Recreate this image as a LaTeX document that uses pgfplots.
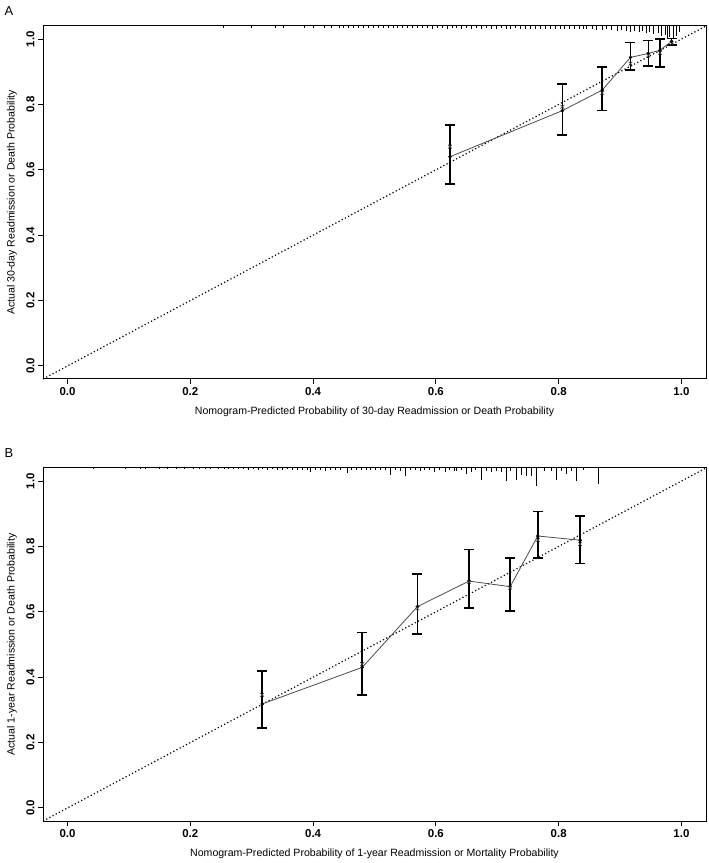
\documentclass[border=0pt]{standalone}
\usepackage{fontspec}
\setmainfont{Liberation Sans}
\usepackage{pgfplots}
\pgfplotsset{compat=1.18}
\usepackage{pgfplotstable}

% calibration groups: x = predicted, dot = observed, top/bot = CI, xm = bias-corrected
\pgfplotstableread{
x      dot    top    bot    xm
0.623  0.640  0.737  0.557  0.671
0.806  0.781  0.862  0.706  0.793
0.871  0.844  0.915  0.781  0.835
0.917  0.944  0.990  0.905  0.925
0.946  0.956  0.995  0.918  0.950
0.965  0.966  1.000  0.915  0.958
0.984  0.993  1.002  0.982  0.987
}\calA
\pgfplotstableread{
x      dot    top    bot    xm
0.317  0.318  0.419  0.244  0.346
0.480  0.430  0.537  0.346  0.440
0.570  0.616  0.715  0.532  0.611
0.654  0.694  0.791  0.612  0.692
0.721  0.677  0.765  0.602  0.674
0.766  0.832  0.907  0.765  0.820
0.835  0.819  0.894  0.748  0.807
}\calB

% rug of predicted probabilities (x, spike length)
\pgfplotstableread{
x len
0.254 .005
0.300 .005
0.338 .005
0.352 .005
0.385 .005
0.400 .005
0.418 .005
0.430 .005
0.442 .006
0.450 .006
0.458 .006
0.466 .006
0.474 .006
0.482 .006
0.490 .006
0.498 .006
0.506 .006
0.514 .006
0.522 .006
0.530 .006
0.538 .006
0.546 .006
0.554 .006
0.562 .006
0.570 .006
0.578 .006
0.586 .006
0.594 .008
0.602 .006
0.610 .006
0.618 .008
0.626 .006
0.634 .006
0.642 .008
0.650 .006
0.658 .008
0.666 .006
0.674 .008
0.682 .006
0.690 .008
0.698 .008
0.706 .006
0.714 .008
0.722 .008
0.730 .006
0.738 .008
0.746 .008
0.754 .008
0.762 .010
0.770 .008
0.778 .010
0.786 .008
0.794 .010
0.802 .010
0.810 .008
0.818 .010
0.826 .010
0.834 .010
0.840 .008
0.845 .009
0.855 .009
0.862 .012
0.871 .012
0.878 .009
0.886 .012
0.895 .015
0.902 .012
0.911 .015
0.916 .018
0.924 .015
0.931 .018
0.937 .015
0.943 .021
0.947 .018
0.955 .024
0.962 .021
0.968 .031
0.973 .028
0.977 .037
0.980 .034
0.986 .040
0.992 .031
0.996 .018
}\rugA
\pgfplotstableread{
x len
0.042 .004
0.094 .004
0.118 .004
0.126 .004
0.150 .004
0.162 .004
0.177 .004
0.190 .004
0.205 .004
0.215 .004
0.225 .004
0.233 .004
0.245 .004
0.255 .004
0.262 .004
0.270 .004
0.278 .004
0.286 .004
0.294 .005
0.302 .004
0.310 .005
0.318 .004
0.326 .005
0.334 .004
0.342 .005
0.350 .005
0.358 .004
0.366 .005
0.374 .005
0.382 .006
0.390 .005
0.395 .012
0.404 .006
0.412 .005
0.420 .009
0.428 .006
0.436 .005
0.444 .006
0.455 .015
0.462 .006
0.470 .006
0.478 .005
0.486 .006
0.494 .006
0.502 .005
0.510 .006
0.518 .006
0.525 .020
0.534 .006
0.542 .008
0.550 .026
0.558 .006
0.566 .006
0.574 .008
0.582 .006
0.590 .006
0.598 .012
0.606 .006
0.615 .012
0.622 .006
0.630 .008
0.634 .010
0.642 .006
0.650 .018
0.657 .012
0.665 .006
0.674 .037
0.682 .009
0.690 .012
0.698 .009
0.706 .012
0.715 .040
0.722 .009
0.731 .037
0.740 .021
0.748 .024
0.756 .024
0.764 .055
0.776 .009
0.788 .009
0.797 .037
0.805 .009
0.813 .018
0.820 .009
0.829 .040
0.840 .006
0.864 .049
}\rugB

\pgfplotsset{
  calstyle/.style={
    scale only axis, width=663bp, height=353bp,
    xmin=-0.04, xmax=1.04, ymin=-0.04, ymax=1.04,
    clip=false,
    xtick={0,0.2,0.4,0.6,0.8,1.0}, ytick={0,0.2,0.4,0.6,0.8,1.0},
    xticklabels={0.0,0.2,0.4,0.6,0.8,1.0},
    yticklabels={0.0,0.2,0.4,0.6,0.8,1.0},
    xtick pos=left, ytick pos=left,
    tick align=outside, major tick length=5bp,
    axis line style={black, line width=1bp},
    every tick/.style={black, line width=1bp},
    tick label style={font=\fontsize{11.5}{13}\selectfont\bfseries},
    yticklabel style={rotate=90, anchor=south},
    xlabel style={at={(axis description cs:0.5,-0.094)}, anchor=center, font=\fontsize{10.6}{12}\selectfont},
    ylabel style={at={(axis description cs:-0.047,0.5)}, anchor=center, font=\fontsize{10.6}{12}\selectfont},
  },
  rugstyle/.style={draw=none, mark=none,
    error bars/.cd, y dir=minus, y explicit, error mark=none,
    error bar style={draw=black, solid, line width=0.7bp}},
  barstyle/.style={draw=none, mark=none,
    error bars/.cd, y dir=both, y explicit, error mark=-,
    error bar style={draw=black, solid, line width=1.6bp},
    error mark options={rotate=90, draw=black, line width=1.6bp, mark size=5bp}},
}

\begin{document}
\begin{tikzpicture}
\path[use as bounding box] (0,0) rectangle (709bp,863bp);

% ---------------- Panel A ----------------
\begin{axis}[calstyle, at={(43bp,484bp)}, anchor=south west,
  xlabel={Nomogram-Predicted Probability of 30-day Readmission or Death Probability},
  ylabel={Actual 30-day Readmission or Death Probability}]
\addplot[black, line width=1.2bp, dash pattern=on 1.2bp off 2.4bp] coordinates {(-0.04,-0.04) (1.04,1.04)};
\addplot[rugstyle] table[x=x, y expr=1.04, y error=len] {\rugA};
\addplot[barstyle] table[x=x, y=dot, y error plus expr=\thisrow{top}-\thisrow{dot}, y error minus expr=\thisrow{dot}-\thisrow{bot}] {\calA};
\addplot[gray!60!black, line width=0.8bp, mark=*, mark size=1.3bp, mark options={black}] table[x=x, y=dot] {\calA};
\addplot[only marks, mark=x, mark size=2.6bp, mark options={gray!50!black, line width=0.6bp}] table[x=x, y=xm] {\calA};
\node[font=\fontsize{13}{15}\selectfont] at (axis description cs:-0.0513,1.042) {A};
\end{axis}

% ---------------- Panel B ----------------
\begin{axis}[calstyle, at={(43bp,42bp)}, anchor=south west,
  xlabel={Nomogram-Predicted Probability of 1-year Readmission or Mortality Probability},
  ylabel={Actual 1-year Readmission or Death Probability}]
\addplot[black, line width=1.2bp, dash pattern=on 1.2bp off 2.4bp] coordinates {(-0.04,-0.04) (1.04,1.04)};
\addplot[rugstyle] table[x=x, y expr=1.04, y error=len] {\rugB};
\addplot[barstyle] table[x=x, y=dot, y error plus expr=\thisrow{top}-\thisrow{dot}, y error minus expr=\thisrow{dot}-\thisrow{bot}] {\calB};
\addplot[gray!60!black, line width=0.8bp, mark=*, mark size=1.3bp, mark options={black}] table[x=x, y=dot] {\calB};
\addplot[only marks, mark=x, mark size=2.6bp, mark options={gray!50!black, line width=0.6bp}] table[x=x, y=xm] {\calB};
\node[font=\fontsize{13}{15}\selectfont] at (axis description cs:-0.0513,1.042) {B};
\end{axis}
\end{tikzpicture}
\end{document}
